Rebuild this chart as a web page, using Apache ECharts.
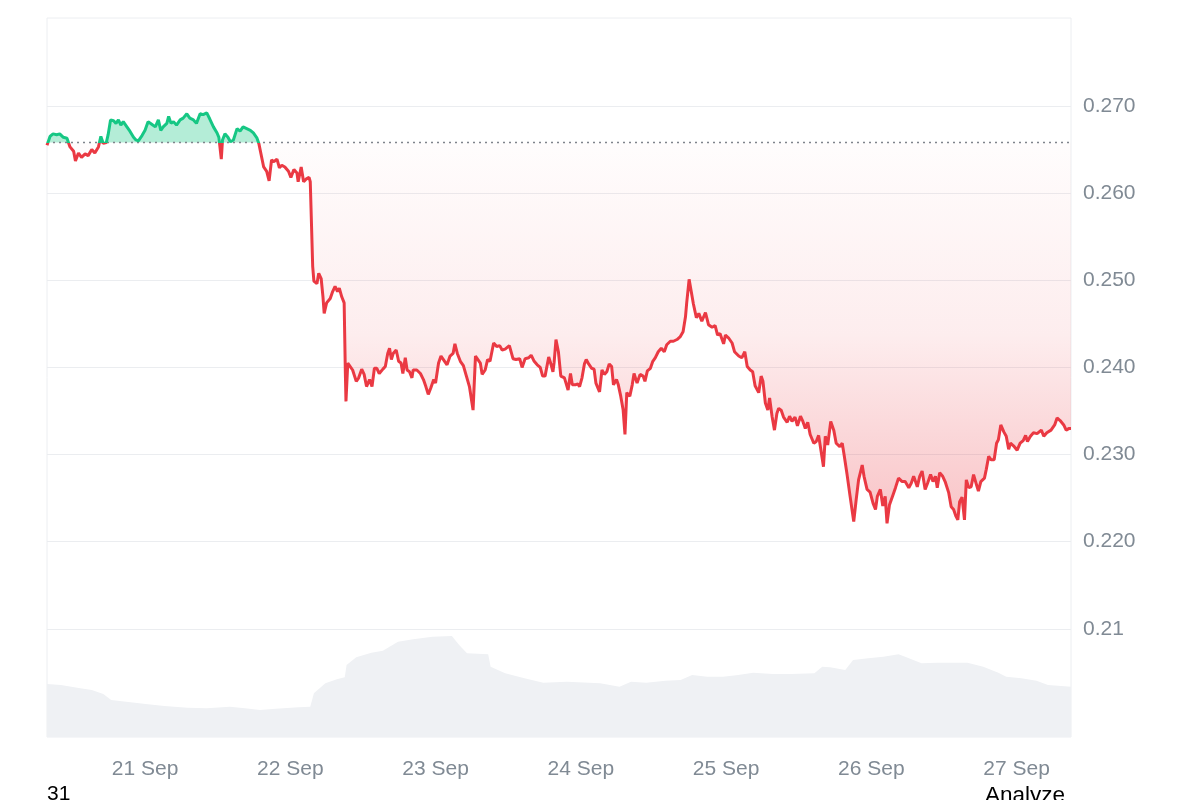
<!DOCTYPE html>
<html>
<head>
<meta charset="utf-8">
<script src="https://cdn.jsdelivr.net/npm/echarts@6/dist/echarts.min.js"></script>
<style>
html,body{margin:0;padding:0;background:#ffffff;}
#chart{width:1200px;height:800px;}
</style>
</head>
<body>
<div id="chart"></div>
<script>
// ---- data (hours since 20 Sep 00:00) ----
const hours = [7.8,8.3,8.8,9.4,9.9,10.5,11.1,11.6,12.2,12.5,13.0,13.5,14.1,14.6,15.2,15.7,16.3,16.7,17.1,17.6,17.9,18.3,18.8,19.2,19.6,20.0,20.4,21.0,21.5,22.1,22.5,22.9,23.5,24.0,24.5,25.1,25.7,26.2,26.6,27.0,27.6,27.9,28.3,28.7,29.2,29.8,30.3,30.9,31.4,32.0,32.5,33.1,33.6,34.2,34.7,35.3,35.9,36.2,36.6,36.8,37.2,37.7,38.1,38.6,39.2,39.7,40.2,40.8,41.4,41.9,42.5,42.8,43.6,44.1,44.5,44.9,45.3,45.8,46.2,46.6,47.1,47.7,48.1,48.6,49.1,49.3,49.8,50.2,50.6,51.1,51.3,51.5,51.7,51.9,52.4,52.7,53.1,53.4,53.6,54.0,54.6,55.0,55.4,55.8,56.1,56.5,56.9,57.1,57.2,57.5,57.9,58.3,58.9,59.3,59.8,60.2,60.6,61.1,61.5,61.9,62.3,62.7,63.3,63.7,64.1,64.4,64.7,65.0,65.5,65.9,66.3,66.6,67.0,67.3,67.7,68.1,68.3,68.9,69.5,70.0,70.4,70.8,71.2,71.7,72.0,72.5,72.9,73.3,73.9,74.4,74.9,75.2,75.6,76.1,76.6,77.1,77.6,78.2,78.6,78.9,79.4,79.7,80.2,80.6,81.0,81.6,82.1,82.6,83.0,83.5,84.2,84.8,85.3,85.9,86.3,86.8,87.4,87.8,88.3,88.8,89.3,89.7,90.1,90.7,91.1,91.4,91.6,91.9,92.3,92.7,93.3,93.6,93.9,94.3,94.6,95.1,95.5,95.8,96.2,96.6,96.9,97.3,97.8,98.2,98.5,99.1,99.5,99.9,100.3,100.7,101.1,101.4,101.9,102.2,102.6,103.0,103.3,103.6,104.1,104.5,104.8,105.3,105.8,106.3,106.6,107.0,107.5,107.9,108.3,108.8,109.3,109.8,110.2,110.8,111.3,111.9,112.4,112.9,113.3,113.5,113.9,114.3,114.6,115.1,115.5,116.0,116.6,117.1,117.7,118.2,118.6,119.0,119.6,119.9,120.4,121.0,121.4,122.1,122.6,123.1,123.5,124.0,124.4,124.8,125.4,125.8,126.1,126.5,126.9,127.2,127.6,128.0,128.4,128.7,129.1,129.5,130.1,130.5,130.9,131.4,131.8,132.3,132.7,133.1,133.5,133.9,134.5,134.9,135.3,135.7,136.1,136.4,136.8,137.3,137.8,138.2,138.8,139.2,139.5,140.0,140.5,141.1,141.5,141.9,142.5,142.8,143.3,143.8,144.3,144.7,145.0,145.5,145.9,146.3,146.6,147.0,147.6,148.0,148.5,149.1,149.6,150.2,150.6,151.0,151.6,152.0,152.4,152.9,153.3,153.8,154.2,154.6,154.9,155.3,155.8,156.2,156.8,157.2,157.6,158.0,158.3,158.6,159.0,159.4,159.7,160.1,160.5,160.9,161.4,161.7,162.1,162.7,163.0,163.4,163.8,164.3,164.7,165.0,165.4,165.9,166.3,166.7,167.0,167.5,168.1,168.6,169.1,169.5,169.8,170.3,170.8,171.4,172.1,172.5,173.0,173.7,174.3,174.7,175.2,175.8,176.2,176.7,177.0];
const prices = [0.2655,0.2665,0.2668,0.2667,0.2668,0.2664,0.2663,0.2653,0.2648,0.2637,0.2646,0.2641,0.2645,0.2643,0.2650,0.2646,0.2653,0.2665,0.2657,0.2658,0.2667,0.2684,0.2683,0.2680,0.2684,0.2678,0.2682,0.2676,0.2671,0.2664,0.2661,0.2660,0.2666,0.2672,0.2682,0.2679,0.2676,0.2684,0.2672,0.2676,0.2680,0.2688,0.2680,0.2682,0.2678,0.2684,0.2686,0.2691,0.2686,0.2684,0.2680,0.2691,0.2690,0.2692,0.2685,0.2676,0.2669,0.2664,0.2639,0.2661,0.2668,0.2664,0.2659,0.2661,0.2674,0.2671,0.2676,0.2674,0.2672,0.2669,0.2663,0.2657,0.2630,0.2625,0.2614,0.2638,0.2636,0.2639,0.2629,0.2632,0.2630,0.2625,0.2618,0.2627,0.2623,0.2613,0.2630,0.2613,0.2616,0.2618,0.2613,0.2565,0.2516,0.2499,0.2496,0.2508,0.2502,0.2481,0.2462,0.2474,0.2479,0.2487,0.2493,0.2487,0.2491,0.2481,0.2474,0.2393,0.2361,0.2405,0.2401,0.2397,0.2384,0.2388,0.2398,0.2392,0.2378,0.2386,0.2378,0.2399,0.2399,0.2393,0.2398,0.2401,0.2416,0.2422,0.2409,0.2416,0.2420,0.2407,0.2405,0.2393,0.2411,0.2397,0.2395,0.2388,0.2397,0.2397,0.2393,0.2386,0.2378,0.2369,0.2376,0.2386,0.2382,0.2405,0.2413,0.2409,0.2403,0.2413,0.2416,0.2427,0.2416,0.2407,0.2402,0.2390,0.2378,0.2351,0.2413,0.2413,0.2405,0.2392,0.2397,0.2409,0.2407,0.2428,0.2424,0.2425,0.2420,0.2421,0.2425,0.2410,0.2409,0.2410,0.2400,0.2410,0.2411,0.2414,0.2407,0.2403,0.2400,0.2390,0.2390,0.2412,0.2403,0.2395,0.2406,0.2432,0.2418,0.2390,0.2388,0.2389,0.2374,0.2393,0.2380,0.2380,0.2381,0.2378,0.2388,0.2404,0.2409,0.2404,0.2399,0.2398,0.2382,0.2372,0.2397,0.2392,0.2395,0.2404,0.2401,0.2380,0.2386,0.2380,0.2367,0.2351,0.2323,0.2371,0.2367,0.2380,0.2393,0.2382,0.2392,0.2390,0.2384,0.2396,0.2399,0.2407,0.2411,0.2418,0.2422,0.2418,0.2426,0.2430,0.2430,0.2432,0.2435,0.2441,0.2458,0.2474,0.2501,0.2485,0.2473,0.2457,0.2462,0.2453,0.2463,0.2449,0.2446,0.2448,0.2437,0.2439,0.2427,0.2437,0.2434,0.2428,0.2418,0.2413,0.2411,0.2418,0.2401,0.2397,0.2395,0.2379,0.2371,0.2390,0.2384,0.2359,0.2351,0.2365,0.2344,0.2328,0.2347,0.2353,0.2351,0.2343,0.2337,0.2344,0.2338,0.2343,0.2333,0.2344,0.2338,0.2330,0.2337,0.2323,0.2313,0.2315,0.2322,0.2304,0.2286,0.2321,0.2311,0.2338,0.2328,0.2313,0.2309,0.2313,0.2300,0.2277,0.2252,0.2223,0.2248,0.2271,0.2288,0.2275,0.2260,0.2257,0.2244,0.2237,0.2252,0.2260,0.2241,0.2252,0.2221,0.2242,0.2254,0.2262,0.2273,0.2269,0.2269,0.2262,0.2267,0.2275,0.2263,0.2275,0.2281,0.2260,0.2267,0.2277,0.2269,0.2275,0.2262,0.2279,0.2275,0.2269,0.2256,0.2240,0.2237,0.2229,0.2225,0.2246,0.2251,0.2225,0.2271,0.2262,0.2263,0.2277,0.2265,0.2258,0.2269,0.2273,0.2283,0.2298,0.2294,0.2294,0.2313,0.2317,0.2334,0.2326,0.2321,0.2306,0.2313,0.2310,0.2305,0.2313,0.2316,0.2322,0.2315,0.2321,0.2325,0.2324,0.2328,0.2321,0.2325,0.2328,0.2334,0.2342,0.2339,0.2334,0.2328,0.2330,0.2330];
const baselinePrice = 0.2658;

const volHours = [7.8,10.1,13.3,15.2,17.1,18.4,20.9,24.1,27.2,31.0,34.2,38.0,40.5,43.0,45.6,49.4,51.3,51.9,53.8,55.7,57.0,57.3,58.9,61.4,63.3,65.8,68.3,71.5,74.7,75.9,77.2,80.7,81.1,83.5,86.7,89.8,93.7,99.2,102.4,104.3,106.8,110.0,112.5,114.4,116.9,119.5,122.0,124.5,127.7,130.8,134.6,135.9,137.2,139.7,141.0,143.5,146.0,148.5,149.8,152.3,154.9,159.9,162.5,165.0,166.3,168.8,171.3,173.2,177.0];
const volumes = [53,52,48.7,47,43,37,35.3,33,31,29.3,28.7,30.3,28.7,27,28.3,29.7,30.3,43.7,53.7,57.7,59.7,72,79.7,84.3,86.3,95.3,97.7,100.3,101,92,83.7,82.7,70.3,63.7,58.7,54.3,55.3,53.7,50.3,55.3,54.3,56.3,57,62,60.3,60.3,62,64.3,63,63,63.7,70.3,69.7,67,77,78.7,80.3,82.7,79.7,73.7,74.3,74.3,70.3,64.3,60.3,58.7,56.3,52,50.3];

const dayHours = [24,48,72,96,120,144,168];
const dayLabels = ['21 Sep','22 Sep','23 Sep','24 Sep','25 Sep','26 Sep','27 Sep'];
const yTickLabels = {'0.21':'0.21','0.22':'0.220','0.23':'0.230','0.24':'0.240','0.25':'0.250','0.26':'0.260','0.27':'0.270'};

// ---- chart ----
const FONT = '"Liberation Sans", Arial, sans-serif';
const GREEN = '#16c784';
const RED = '#ea3943';
const X_MIN = 7.8, X_MAX = 177.0;
const chart = echarts.init(document.getElementById('chart'), null, {renderer:'canvas'});

const priceData = hours.map((h,i)=>[h, prices[i]]);

// polygon between price and baseline, clipped to one side
function clippedPolygon(api, side) {
  const pts = [];
  for (let i = 0; i < hours.length; i++) {
    if (i > 0) {
      const a = prices[i-1] - baselinePrice, b = prices[i] - baselinePrice;
      if (a * b < 0) {
        const t = a / (a - b);
        pts.push(api.coord([hours[i-1] + t * (hours[i] - hours[i-1]), baselinePrice]));
      }
    }
    const v = side > 0 ? Math.max(prices[i], baselinePrice) : Math.min(prices[i], baselinePrice);
    pts.push(api.coord([hours[i], v]));
  }
  pts.push(api.coord([hours[hours.length-1], baselinePrice]));
  pts.push(api.coord([hours[0], baselinePrice]));
  return pts;
}

const redGrad = new echarts.graphic.LinearGradient(0, 142, 0, 525, [
  {offset:0, color:'rgba(234,57,67,0.01)'},
  {offset:0.5, color:'rgba(234,57,67,0.09)'},
  {offset:1, color:'rgba(234,57,67,0.30)'}
], true);

const option = {
  animation: false,
  backgroundColor: '#ffffff',
  grid: [
    // price grid: 0.20 .. 0.28
    {left:47, right:129, top:18.8, bottom:84},
    // frame + volume grid
    {left:47, right:129, top:18, bottom:63, show:true, borderColor:'#eceef1', borderWidth:1, backgroundColor:'transparent'}
  ],
  xAxis: [
    {type:'value', gridIndex:0, min:X_MIN, max:X_MAX, show:false},
    {type:'value', gridIndex:1, min:X_MIN, max:X_MAX,
     axisLine:{show:false}, axisTick:{show:false}, splitLine:{show:false},
     axisLabel:{customValues: dayHours, margin:22, color:'#808a94', fontSize:21, fontFamily:FONT,
       formatter:(v)=>{const i=dayHours.indexOf(Math.round(v)); return i>=0?dayLabels[i]:'';}}}
  ],
  yAxis: [
    {type:'value', gridIndex:0, position:'right', min:0.20, max:0.28, interval:0.01,
     axisLine:{show:false}, axisTick:{show:false},
     splitLine:{show:true, showMinLine:false, showMaxLine:false, lineStyle:{color:'#ebedf0', width:1}},
     axisLabel:{showMinLabel:false, showMaxLabel:false, margin:12, padding:[7,0,0,0],
       color:'#808a94', fontSize:21, fontFamily:FONT,
       formatter:(v)=>{const k=(Math.round(v*100)/100).toFixed(2); return yTickLabels[k]||'';}}},
    {type:'value', gridIndex:1, min:0, max:719, show:false}
  ],
  visualMap: {type:'piecewise', show:false, seriesIndex:3, dimension:1,
    pieces:[{gt:baselinePrice, lte:1, color:GREEN},{gt:0, lte:baselinePrice, color:RED}],
    outOfRange:{color:RED}},
  series: [
    {type:'line', xAxisIndex:1, yAxisIndex:1, data: volHours.map((h,i)=>[h, volumes[i]]),
     symbol:'none', lineStyle:{opacity:0}, areaStyle:{color:'#eff1f4', opacity:1}, z:1, silent:true},
    {type:'custom', xAxisIndex:0, yAxisIndex:0, data:[[X_MIN, baselinePrice]], z:2, silent:true,
     renderItem:(params, api)=>({type:'polygon', shape:{points: clippedPolygon(api, 1)},
       style:{fill:'rgba(22,199,132,0.32)'}})},
    {type:'custom', xAxisIndex:0, yAxisIndex:0, data:[[X_MIN, baselinePrice]], z:2, silent:true,
     renderItem:(params, api)=>({type:'polygon', shape:{points: clippedPolygon(api, -1)},
       style:{fill: redGrad}})},
    {type:'line', xAxisIndex:0, yAxisIndex:0, data: priceData, symbol:'none', lineStyle:{width:3}, z:5,
     markLine:{silent:true, symbol:['none','none'], label:{show:false}, precision:6,
       lineStyle:{color:'#7f848c', type:[2,4], width:1.4},
       data:[{yAxis: baselinePrice}]}}
  ],
  graphic: [
    {type:'text', left:47, top:784, style:{text:'31', font:'21px ' + FONT, fill:'#000000'}},
    {type:'text', left:985, top:784, style:{text:'Analyze', font:'22.5px ' + FONT, fill:'#000000'}}
  ]
};
chart.setOption(option);
</script>
</body>
</html>
